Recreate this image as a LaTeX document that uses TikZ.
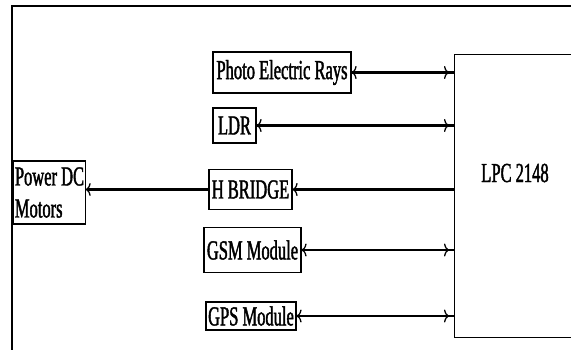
\documentclass[tikz,border=0pt]{standalone}
\usepackage{fontspec}
\setmainfont{Liberation Serif}[FakeStretch=0.6,FakeBold=1.5]
\usetikzlibrary{arrows.meta}
\begin{document}
\begin{tikzpicture}[x=1pt,y=-1pt,
  box/.style={draw, line width=1.2pt, inner sep=0pt, font=\fontsize{27.5}{32}\selectfont},
  conn/.style={line width=2.6pt},
  >={To[length=5pt 0 0,width=13pt 0 0,line width=1.3pt 0 0]}]
\useasboundingbox (0,0) rectangle (571,350);
\clip (0,0) rectangle (571,350);
% outer frame
\coordinate (f1) at (12,360);
\coordinate (f2) at (12,6);
\coordinate (f3) at (580,6);
\draw[line width=2.5pt] (f1) -- (f2) -- (f3);
% boxes
\node[draw, line width=1.2pt, minimum width=124pt, minimum height=283pt, anchor=north west, inner sep=0pt] (lpc) at (454,54) {};
\node[font=\fontsize{27.5}{32}\selectfont, inner sep=0pt] (lpct) at (515,173) {LPC 2148};
\node[box, minimum width=138pt, minimum height=41pt] (photo) at (282,72.5) {Photo Electric Rays};
\node[box, minimum width=43pt, minimum height=35pt] (ldr) at (234.5,125.5) {LDR};
\node[box, minimum width=83pt, minimum height=40pt] (hb) at (250.5,189.5) {H BRIDGE};
\node[box, minimum width=97pt, minimum height=45pt] (gsm) at (252.5,250) {GSM Module};
\node[box, minimum width=90pt, minimum height=28pt] (gps) at (251,316) {GPS Module};
\node[box, minimum width=67pt, minimum height=63pt, align=left, inner xsep=1pt] (pdc) at (49.5,192.5) {Power DC\\Motors};
% connectors
\foreach \n in {photo,ldr,gsm,gps}{
  \draw[conn] (\n.east) -- (\n.east -| lpc.west);
  \draw[conn,<->,shorten >=5pt] (\n.east) -- (\n.east -| lpc.west);
}
\draw[conn,->] (hb.east -| lpc.west) -- (hb.east);
\draw[conn,->] (hb.west) -- (hb.west -| pdc.east);
\end{tikzpicture}
\end{document}
